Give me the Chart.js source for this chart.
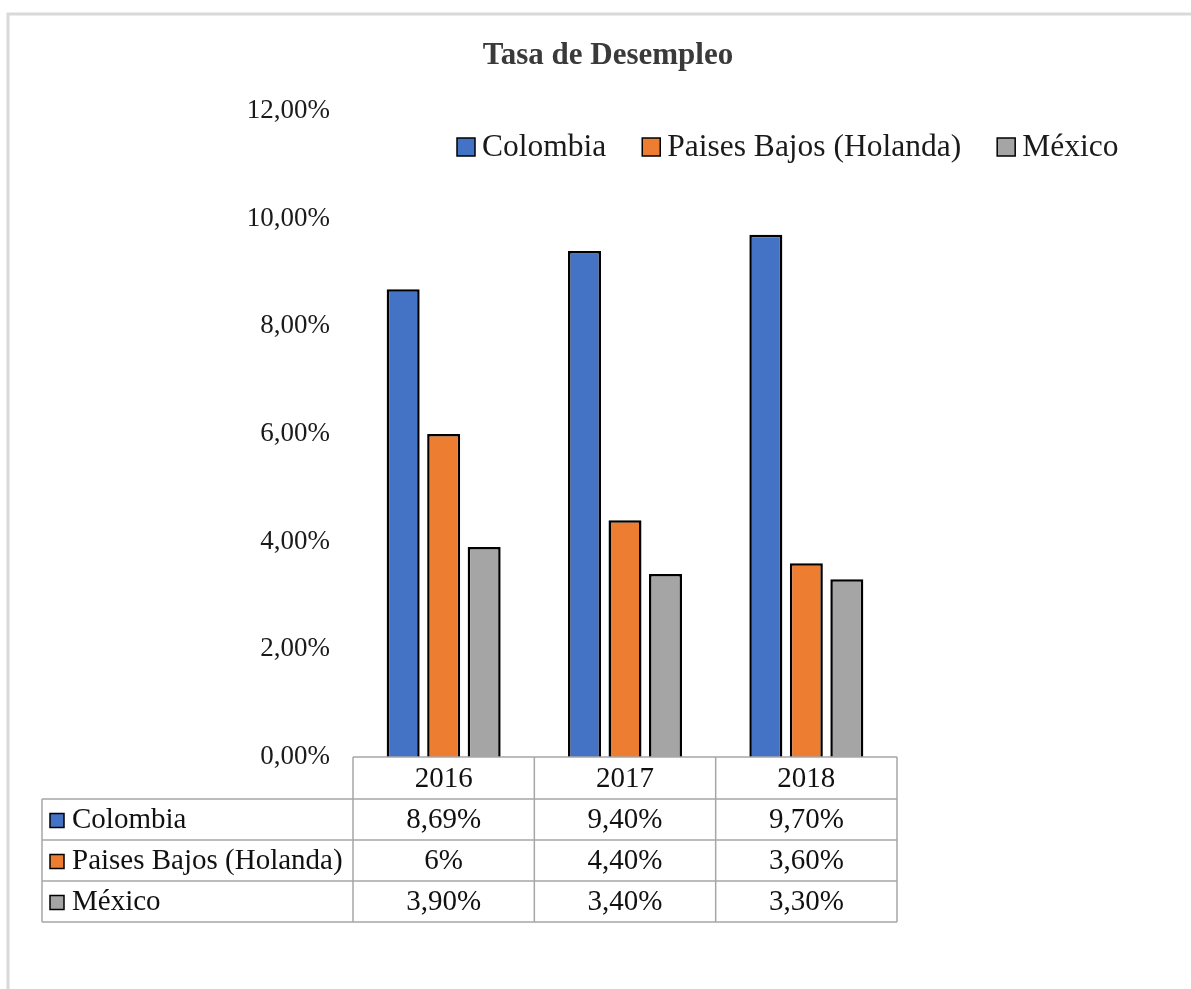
<!DOCTYPE html>
<html>
<head>
<meta charset="utf-8">
<script src="https://cdn.jsdelivr.net/npm/chart.js@4"></script>
<style>
  body { margin: 0; background: #fff; }
  #wrap { width: 1191px; height: 989px; }
</style>
</head>
<body>
<div id="wrap"><canvas id="grafico" width="1191" height="989"></canvas></div>
<script>
// datos
const anios = ['2016', '2017', '2018'];
const colombia = [8.69, 9.40, 9.70];
const holanda = [6, 4.40, 3.60];
const mexico = [3.90, 3.40, 3.30];
const paises = ['Colombia', 'Paises Bajos (Holanda)', 'México'];
const colores = ['#4472C4', '#ED7D31', '#A5A5A5'];

const fuente = '"Liberation Serif", "Times New Roman", serif';

function porcentaje(v) {
  if (Number.isInteger(v)) return v + '%';
  return v.toFixed(2).replace('.', ',') + '%';
}

// marco, titulo y leyenda
const marco = {
  id: 'marco',
  beforeDraw(chart) {
    const ctx = chart.ctx;
    ctx.save();
    ctx.fillStyle = '#fff';
    ctx.fillRect(0, 0, chart.width, chart.height);
    ctx.strokeStyle = '#d9d9d9';
    ctx.lineWidth = 3;
    ctx.beginPath();
    ctx.moveTo(8, chart.height);
    ctx.lineTo(8, 14);
    ctx.lineTo(chart.width, 14);
    ctx.stroke();

    ctx.fillStyle = '#3a3a3a';
    ctx.font = 'bold 31px ' + fuente;
    ctx.textAlign = 'center';
    ctx.textBaseline = 'middle';
    ctx.fillText('Tasa de Desempleo', 608, 56);

    // leyenda
    ctx.font = '31.5px ' + fuente;
    ctx.textAlign = 'left';
    let x = 457;
    const y = 147;
    chart.data.datasets.forEach((ds, i) => {
      ctx.fillStyle = ds.backgroundColor;
      ctx.fillRect(x, y - 9, 18, 18);
      ctx.strokeStyle = '#000';
      ctx.lineWidth = 1.5;
      ctx.strokeRect(x, y - 9, 18, 18);
      ctx.fillStyle = '#1a1a1a';
      ctx.fillText(ds.label, x + 25, y + 1);
      x += 25 + ctx.measureText(ds.label).width + 36;
    });
    ctx.restore();
  }
};

// tabla de datos debajo del grafico
const tabla = {
  id: 'tabla',
  afterDraw(chart) {
    const ctx = chart.ctx;
    const xs = chart.scales.x;
    const area = chart.chartArea;
    const n = chart.data.labels.length;
    const ancho = (area.right - area.left) / n;
    const top = area.bottom;
    const altoCab = 42;
    const alto = 41;
    const izq = 42;
    const filas = chart.data.datasets.length;
    const fondo = top + altoCab + alto * filas;

    ctx.save();
    ctx.strokeStyle = '#a6a6a6';
    ctx.lineWidth = 1.5;
    ctx.beginPath();
    // lineas horizontales
    ctx.moveTo(area.left, top);
    ctx.lineTo(area.right, top);
    for (let r = 0; r <= filas; r++) {
      const yy = top + altoCab + alto * r;
      ctx.moveTo(izq, yy);
      ctx.lineTo(area.right, yy);
    }
    // lineas verticales
    ctx.moveTo(izq, top + altoCab);
    ctx.lineTo(izq, fondo);
    for (let c = 0; c <= n; c++) {
      const xx = area.left + ancho * c;
      ctx.moveTo(xx, top);
      ctx.lineTo(xx, fondo);
    }
    ctx.stroke();

    ctx.font = '29px ' + fuente;
    ctx.fillStyle = '#111';
    ctx.textBaseline = 'middle';
    ctx.textAlign = 'center';
    chart.data.labels.forEach((lab, i) => {
      ctx.fillText(lab, xs.getPixelForValue(i), top + altoCab / 2 + 1);
    });
    chart.data.datasets.forEach((ds, r) => {
      const yc = top + altoCab + alto * r + alto / 2 + 1;
      ctx.textAlign = 'left';
      ctx.fillStyle = ds.backgroundColor;
      ctx.fillRect(50, yc - 7, 14, 14);
      ctx.strokeStyle = '#000';
      ctx.lineWidth = 1.5;
      ctx.strokeRect(50, yc - 7, 14, 14);
      ctx.fillStyle = '#111';
      ctx.fillText(ds.label, 72, yc);
      ctx.textAlign = 'center';
      ds.data.forEach((v, i) => {
        ctx.fillText(porcentaje(v), xs.getPixelForValue(i), yc);
      });
    });
    ctx.restore();
  }
};

const series = [colombia, holanda, mexico];

new Chart(document.getElementById('grafico'), {
  type: 'bar',
  data: {
    labels: anios,
    datasets: series.map((d, i) => ({
      label: paises[i],
      data: d,
      backgroundColor: colores[i],
      borderColor: '#000',
      borderWidth: 2.5,
      categoryPercentage: 0.67,
      barPercentage: 0.815
    }))
  },
  options: {
    responsive: false,
    animation: false,
    layout: { padding: { top: 111, bottom: 232, left: 0, right: 294 } },
    plugins: {
      legend: { display: false },
      title: { display: false },
      tooltip: { enabled: false }
    },
    scales: {
      x: { display: false },
      y: {
        min: 0,
        max: 12,
        grid: { display: false, drawTicks: false },
        border: { display: false },
        ticks: {
          stepSize: 2,
          padding: 23,
          color: '#1a1a1a',
          font: { family: fuente, size: 27 },
          callback: v => v.toFixed(2).replace('.', ',') + '%'
        },
        afterFit(scale) { scale.width = 353; }
      }
    }
  },
  plugins: [marco, tabla]
});
</script>
</body>
</html>
